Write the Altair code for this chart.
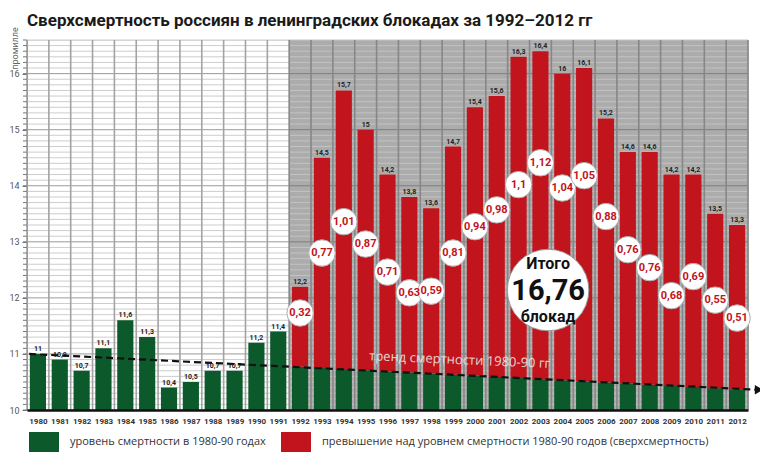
import altair as alt
import pandas as pd

years = list(range(1980, 2013))
values = [11, 10.9, 10.7, 11.1, 11.6, 11.3, 10.4, 10.5, 10.7, 10.7, 11.2, 11.4,
          12.2, 14.5, 15.7, 15, 14.2, 13.8, 13.6, 14.7, 15.4, 15.6, 16.3, 16.4,
          16, 16.1, 15.2, 14.6, 14.6, 14.2, 14.2, 13.5, 13.3]
# level of 1980-90 trend under the bars of 1992-2012
base_years = list(range(1992, 2013))
base_values = [10.77, 10.75, 10.73, 10.71, 10.69, 10.67, 10.65, 10.63, 10.61, 10.59,
               10.57, 10.55, 10.53, 10.51, 10.49, 10.47, 10.45, 10.43, 10.41, 10.39, 10.37]
excess_labels = ["0,32", "0,77", "1,01", "0,87", "0,71", "0,63", "0,59", "0,81", "0,94", "0,98",
                 "1,1", "1,12", "1,04", "1,05", "0,88", "0,76", "0,76", "0,68", "0,69", "0,55", "0,51"]
bubble_level = [11.73, 12.80, 13.36, 12.96, 12.46, 12.09, 12.12, 12.80, 13.27, 13.57,
                14.02, 14.41, 13.96, 14.18, 13.45, 12.86, 12.54, 12.04, 12.38, 11.96, 11.64]
trend_x = [1979.6, 2013.0]
trend_y = [11.0, 10.36]
y_labels = [10, 11, 12, 13, 14, 15, 16]

GREEN = "#0c5a2b"
RED = "#c1141c"
green_label = "уровень смертности в 1980-90 годах"
red_label = "превышение над уровнем смертности 1980-90 годов (сверхсмертность)"
COND = "Roboto"

XMIN, XMAX, YMIN, YMAX = 1979.5, 2012.5, 10, 16.6
xscale = alt.Scale(domain=[XMIN, XMAX], nice=False, zero=False)
yscale = alt.Scale(domain=[YMIN, YMAX], nice=False, zero=False)

base_map = dict(zip(base_years, base_values))
bar_rows = []
for y, v in zip(years, values):
    if y in base_map:
        bar_rows.append(dict(x0=y - 0.37, x1=y + 0.37, y0=YMIN, y1=base_map[y], part=green_label))
        bar_rows.append(dict(x0=y - 0.37, x1=y + 0.37, y0=base_map[y], y1=v, part=red_label))
    else:
        bar_rows.append(dict(x0=y - 0.37, x1=y + 0.37, y0=YMIN, y1=v, part=green_label))
bars_df = pd.DataFrame(bar_rows)

lab_df = pd.DataFrame({"year": years, "value": values,
                       "label": [str(v).replace(".", ",") for v in values]})
bub_df = pd.DataFrame({"year": base_years, "lvl": bubble_level, "label": excess_labels})

# grid
levels = [round(YMIN + i * 0.1, 1) for i in range(0, 67)]
hgrid = []
for lv in levels:
    major = abs(lv - round(lv)) < 1e-6
    hgrid.append(dict(y=lv, x0=XMIN, x1=1991.5, c="#9a9a9a" if major else "#cdcdcd"))
    hgrid.append(dict(y=lv, x0=1991.5, x1=XMAX, c="#7e7e7e" if major else "#c3c3c3"))
hgrid_df = pd.DataFrame(hgrid)
bounds = [XMIN + i for i in range(0, 34)]
vgrid_df = pd.DataFrame({"x": bounds, "y0": [YMIN] * len(bounds), "y1": [YMAX] * len(bounds),
                         "c": ["#a3a3a3" if b < 1991.5 else "#878787" for b in bounds]})
region_df = pd.DataFrame({"x0": [1991.5], "x1": [XMAX], "y0": [YMIN], "y1": [YMAX]})
ruler_df = pd.DataFrame({"v": levels, "x": [XMIN] * len(levels)})

xaxis = alt.Axis(values=years, format="d", labelFontSize=8, labelFont=COND, labelFontWeight="bold",
                 labelColor="#333", ticks=False, grid=False, domainColor="#111", domainWidth=2.5,
                 labelPadding=7, title=None, zindex=1, labelFlush=False, labelOverlap=False,
                 labelSeparation=0, tickCount=33)
yaxis = alt.Axis(values=y_labels, format="d", labelFontSize=9, labelFont="Roboto", labelColor="#555",
                 tickSize=5, tickColor="#777", domainColor="#777", grid=False, title="промилле",
                 titleFontSize=9, titleFont="Roboto", titleFontWeight="normal", titleColor="#666",
                 titleAngle=270, titleX=-13, titleY=8, titleAlign="center", titleBaseline="middle",
                 labelPadding=3, labelFlush=False, labelOverlap=False)


def X(f):
    return alt.X(f, scale=xscale, axis=xaxis)


def Y(f):
    return alt.Y(f, scale=yscale, axis=yaxis)


region = alt.Chart(region_df).mark_rect(color="#acacac").encode(
    x=X("x0:Q"), x2="x1", y=Y("y0:Q"), y2="y1")

hlines = alt.Chart(hgrid_df).mark_rule(strokeWidth=1).encode(
    x=X("x0:Q"), x2="x1", y=Y("y:Q"), color=alt.Color("c:N", scale=None))

vlines = alt.Chart(vgrid_df).mark_rule(strokeWidth=1.6).encode(
    x=X("x:Q"), y=Y("y0:Q"), y2="y1", color=alt.Color("c:N", scale=None))

ruler = alt.Chart(ruler_df).mark_tick(orient="horizontal", size=4, thickness=1, color="#777", xOffset=-2,
                                      opacity=1).encode(x=X("x:Q"), y=Y("v:Q"))

bars = alt.Chart(bars_df).mark_rect().encode(
    x=X("x0:Q"), x2="x1", y=Y("y0:Q"), y2="y1",
    color=alt.Color("part:N", scale=alt.Scale(domain=[green_label, red_label], range=[GREEN, RED]),
                    legend=alt.Legend(title=None, orient="none", legendX=7, legendY=392, direction="horizontal",
                                      symbolType="M-1.5,-1H1.5V1H-1.5Z", symbolSize=400, symbolStrokeWidth=0,
                                      symbolOpacity=1, labelFontSize=11, labelFont="Open Sans",
                                      labelColor="#333", labelLimit=600, columnPadding=15, labelOffset=16)))

vlabels = alt.Chart(lab_df).mark_text(fontSize=7, fontWeight="bold", font=COND, color="#222", dy=-2,
                                      baseline="bottom").encode(
    x=X("year:Q"), y=Y("value:Q"), text="label:N")

tr_df = pd.DataFrame({"x": trend_x, "y": trend_y})
trend = alt.Chart(tr_df).mark_line(color="#111", strokeWidth=2.2, strokeDash=[7, 4]).encode(
    x=X("x:Q"), y=Y("y:Q"))
arrow = alt.Chart(tr_df.tail(1)).mark_point(shape="triangle-right", filled=True, color="#111", size=90, opacity=1).encode(
    x=X("x:Q"), y=Y("y:Q"))

ttext_df = pd.DataFrame({"x": [1999.3], "y": [10.89], "t": ["тренд смертности 1980-90 гг"]})
trend_text = alt.Chart(ttext_df).mark_text(fontSize=13, font="Open Sans", color="#e6e6e6", angle=2.5,
                                           opacity=0.9, baseline="middle").encode(
    x=X("x:Q"), y=Y("y:Q"), text="t:N")

bubbles = alt.Chart(bub_df).mark_point(shape="circle", filled=True, fill="white", stroke="#b0b0b0",
                                        strokeWidth=1, size=700, opacity=1).encode(
    x=X("year:Q"), y=Y("lvl:Q"))
btext = alt.Chart(bub_df).mark_text(fontSize=11, fontWeight="bold", font=COND, color=RED,
                                    baseline="middle").encode(
    x=X("year:Q"), y=Y("lvl:Q"), text="label:N")

total_df = pd.DataFrame({"x": [2003.35], "y": [12.14]})
big = alt.Chart(total_df).mark_point(shape="circle", filled=True, fill="white", stroke="#999",
                                     strokeWidth=1, size=6650, opacity=1).encode(
    x=X("x:Q"), y=Y("y:Q"))
tot_txt_df = pd.DataFrame({"x": [2003.35, 2003.35, 2003.35], "y": [12.60, 12.13, 11.66],
                           "t": ["Итого", "16,76", "блокад"], "s": [16, 29, 16]})
big_text = alt.Chart(tot_txt_df).mark_text(fontWeight="bold", font=COND, color="#111", baseline="middle").encode(
    x=X("x:Q"), y=Y("y:Q"), text="t:N", size=alt.Size("s:Q", scale=None, legend=None))

chart = alt.layer(region, hlines, vlines, ruler, bars, vlabels, trend, arrow, trend_text, bubbles, btext,
                  big, big_text).properties(
    width=721, height=370, autosize="none",
    padding={"left": 19, "top": 32, "right": 12, "bottom": 45},
    title=alt.TitleParams("Сверхсмертность россиян в ленинградских блокадах за 1992–2012 гг", font=COND,
                          fontSize=17, fontWeight="bold", anchor="start", color="#1a1a1a", offset=-3,
                          frame="group"),
).configure_view(stroke=None).configure(background="white")

chart.save("out.html", embed_options={"renderer": "svg", "actions": False})
